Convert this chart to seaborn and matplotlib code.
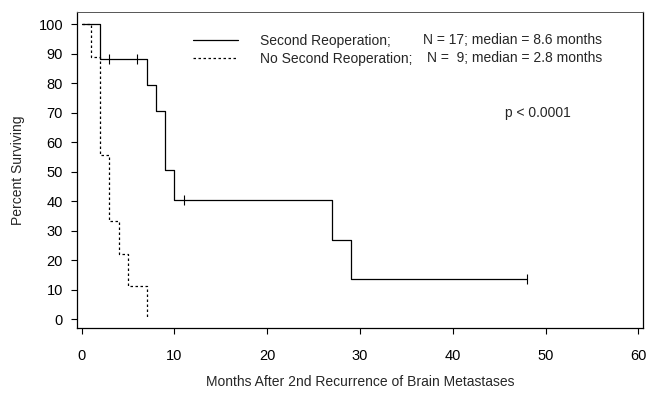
import matplotlib
matplotlib.use("Agg")
import matplotlib.pyplot as plt
import seaborn as sns
import pandas as pd

# ---- data ----
reop_time = [0, 2, 7, 8, 9, 10, 27, 29, 48]
reop_surv = [100, 88.2, 79.4, 70.6, 50.6, 40.5, 27.0, 13.5, 13.5]
reop_cens_time = [3, 6, 11, 48]
reop_cens_surv = [88.2, 88.2, 40.5, 13.5]

noreop_time = [0, 1, 2, 3, 4, 5, 7]
noreop_surv = [100, 88.9, 55.6, 33.3, 22.2, 11.1, 0]

x_ticks = [0, 10, 20, 30, 40, 50, 60]
y_ticks = [0, 10, 20, 30, 40, 50, 60, 70, 80, 90, 100]

label_reop = "Second Reoperation;"
label_noreop = "No Second Reoperation;"
stat_reop = "N = 17; median = 8.6 months"
stat_noreop = "N =  9; median = 2.8 months"
p_text = "p < 0.0001"

sns.set_theme(style="white")
plt.rcParams["font.family"] = ["Liberation Sans", "DejaVu Sans"]

df_reop = pd.DataFrame({"t": reop_time, "s": reop_surv})
df_noreop = pd.DataFrame({"t": noreop_time, "s": noreop_surv})
df_cens = pd.DataFrame({"t": reop_cens_time, "s": reop_cens_surv})

FS = 10
W, H = 647, 393
fig = plt.figure(figsize=(W / 100, H / 100), dpi=100)
ax = fig.add_axes([77 / W, 1 - 328 / H, (643 - 77) / W, (328 - 12) / H])

sns.lineplot(data=df_reop, x="t", y="s", drawstyle="steps-post", color="black",
             linewidth=0.9, ax=ax, label=label_reop, estimator=None)
sns.lineplot(data=df_noreop, x="t", y="s", drawstyle="steps-post", color="black",
             linewidth=0.9, linestyle=(0, (2, 2)), ax=ax, label=label_noreop, estimator=None)
sns.scatterplot(data=df_cens, x="t", y="s", marker="|", s=50, color="black",
                linewidth=0.8, ax=ax, legend=False)

ax.set_xlim(-0.5, 60.5)
ax.set_ylim(-3, 104.2)
ax.set_xticks(x_ticks)
ax.set_yticks(y_ticks)
ax.tick_params(axis="both", which="both", direction="out", length=4, width=0.8,
               color="black", labelsize=10.5, labelcolor="black")
ax.tick_params(axis="x", pad=11)
ax.tick_params(axis="y", pad=6)
ax.tick_params(left=True, bottom=True)

for side, sp in ax.spines.items():
    sp.set_visible(True)
    sp.set_color("black")
    sp.set_linewidth(0.9)
ax.spines["top"].set_color("#555555")
ax.spines["top"].set_linewidth(0.7)

ax.set_xlabel("Months After 2nd Recurrence of Brain Metastases", fontsize=FS, labelpad=9)
ax.set_ylabel("Percent Surviving", fontsize=FS, labelpad=10)

leg = ax.legend(loc="upper left", bbox_to_anchor=(193 / W, 1 - 33.5 / H),
                bbox_transform=fig.transFigure, frameon=False, fontsize=FS,
                handlelength=3.25, handletextpad=1.6, labelspacing=0.32, borderpad=0,
                borderaxespad=0)
for line in leg.get_lines():
    line.set_linewidth(0.9)

fig.text(602 / W, 1 - 40 / H, stat_reop, ha="right", va="center", fontsize=FS)
fig.text(602 / W, 1 - 58 / H, stat_noreop, ha="right", va="center", fontsize=FS)
fig.text(505 / W, 1 - 113 / H, p_text, ha="left", va="center", fontsize=FS)

fig.savefig("out.png", dpi=100, facecolor="white")
